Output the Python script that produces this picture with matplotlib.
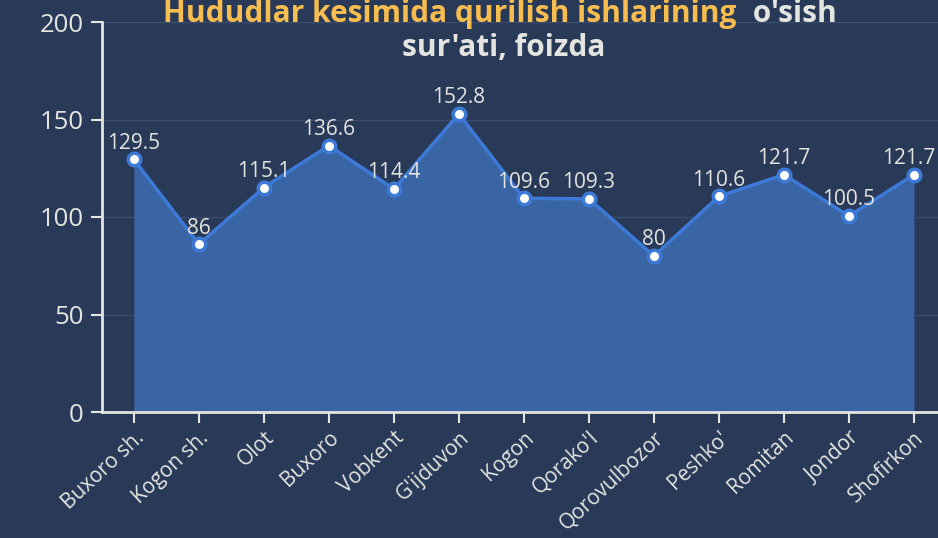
import matplotlib
matplotlib.use("Agg")
import matplotlib.pyplot as plt

categories = ["Buxoro sh.", "Kogon sh.", "Olot", "Buxoro", "Vobkent", "G'ijduvon", "Kogon",
              "Qorako'l", "Qorovulbozor", "Peshko'", "Romitan", "Jondor", "Shofirkon"]
values = [129.5, 86, 115.1, 136.6, 114.4, 152.8, 109.6, 109.3, 80, 110.6, 121.7, 100.5, 121.7]
labels = ["129.5", "86", "115.1", "136.6", "114.4", "152.8", "109.6", "109.3", "80", "110.6", "121.7", "100.5", "121.7"]
yticks = [0, 50, 100, 150, 200]
title_part1 = "Hududlar kesimida qurilish ishlarining"
title_part2 = " o'sish"
title_line2 = "sur'ati, foizda"

BG = "#293a59"
FILL = "#3a65a5"
LINE = "#3d7ad8"
TXT = "#e4e4e0"
YEL = "#f7bd4e"

plt.rcParams['font.family'] = ['Open Sans', 'DejaVu Sans']

W, H = 938, 538
fig = plt.figure(figsize=(W / 100, H / 100), dpi=100, facecolor=BG)
ax = fig.add_axes([102 / W, 1 - 412 / H, 1 - 102 / W, (412 - 22) / H])
ax.set_facecolor(BG)

x = list(range(len(categories)))
ax.fill_between(x, values, 0, color=FILL, zorder=2, linewidth=0)
ax.plot(x, values, color=LINE, lw=2.5, zorder=3)
ax.plot(x, values, 'o', ms=9, mfc="white", mec=LINE, mew=2.5, zorder=4)
n = len(x)
for i, (xi, v, lab) in enumerate(zip(x, values, labels)):
    dx = -4 if i == n - 1 else 0
    ax.annotate(lab, (xi, v), xytext=(dx, 4), textcoords="offset points",
                ha="center", va="bottom", color=TXT, fontsize=15, zorder=5)

ax.set_xlim(-0.49, 12.37)
ax.set_ylim(0, 200)
ax.set_yticks(yticks)
ax.set_yticklabels([str(t) for t in yticks], fontsize=18.5, color=TXT)
ax.set_xticks(x)
ax.set_xticklabels(categories, rotation=43, ha="right", rotation_mode="anchor",
                   fontsize=15, color=TXT)
ax.tick_params(axis='both', colors=TXT, length=8, width=1.5)
ax.tick_params(axis='y', pad=5)
ax.tick_params(axis='x', pad=3)
ax.yaxis.grid(True, color="#3c4d6c", lw=1, zorder=1)
ax.set_axisbelow(True)
for s in ["top", "right"]:
    ax.spines[s].set_visible(False)
for s in ["left", "bottom"]:
    ax.spines[s].set_color(TXT)
    ax.spines[s].set_linewidth(2)
    ax.spines[s].set_zorder(6)

# title with two colours on first line
fig.canvas.draw()
r = fig.canvas.get_renderer()
tsize = 21.5
t1 = fig.text(0, 1 - 14 / H, title_part1, color=YEL, fontsize=tsize, fontweight="bold", va="center", ha="left")
t2 = fig.text(0, 1 - 14 / H, title_part2, color=TXT, fontsize=tsize, fontweight="bold", va="center", ha="left")
w1 = t1.get_window_extent(r).width
w2 = t2.get_window_extent(r).width
total = w1 + w2 + 8
start = (160 + 840) / 2 - total / 2
t1.set_x(start / W)
t2.set_x((start + w1 + 8) / W)
fig.text(504 / W, 1 - 48 / H, title_line2, color=TXT, fontsize=tsize, fontweight="bold", va="center", ha="center")

fig.savefig("out.png", dpi=100, facecolor=BG)
